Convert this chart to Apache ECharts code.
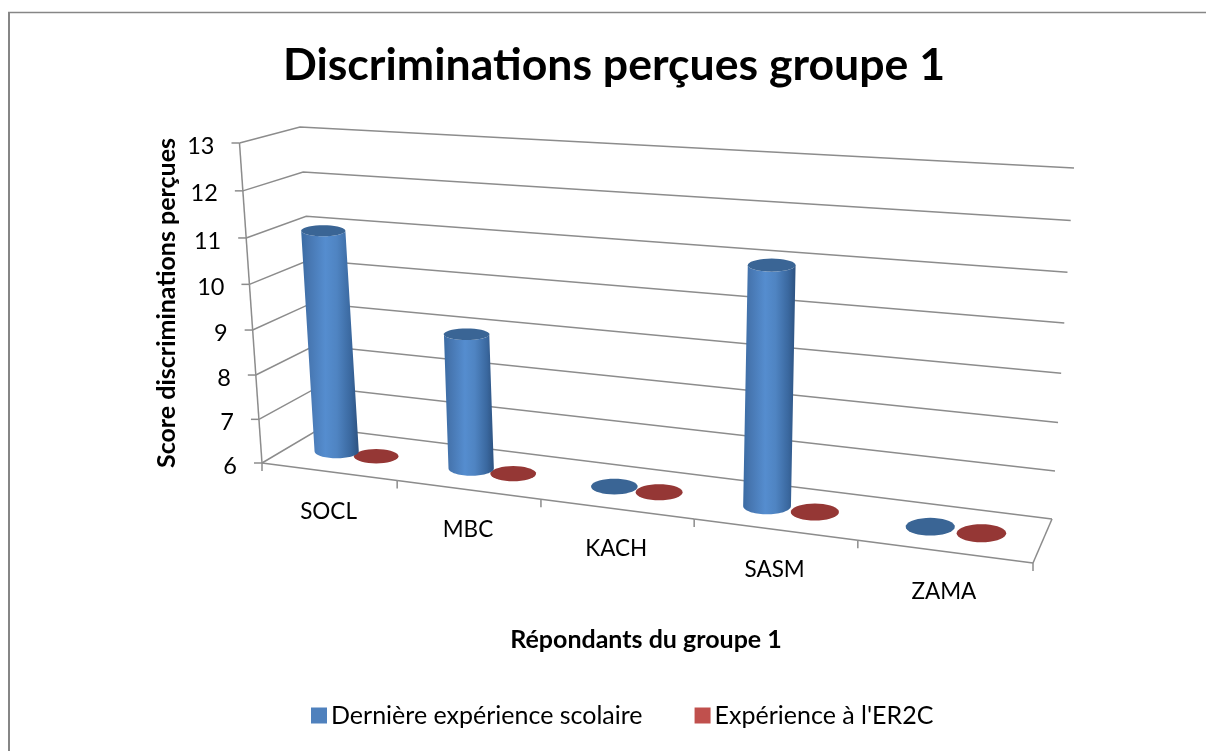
<!DOCTYPE html>
<html><head><meta charset="utf-8">
<script src="https://cdn.jsdelivr.net/npm/echarts@6/dist/echarts.min.js"></script>
<style>html,body{margin:0;padding:0;background:#fff}#c{width:1206px;height:751px}</style>
</head><body><div id="c"></div>
<script>
const categories = ['SOCL','MBC','KACH','SASM','ZAMA'];
const derniereExperience = [11, 9, 6, 11, 6];
const experienceER2C = [6, 6, 6, 6, 6];
const valueTicks = [6, 7, 8, 9, 10, 11, 12, 13];
const seriesNames = ['Dernière expérience scolaire', "Expérience à l'ER2C"];
const titleText = 'Discriminations perçues groupe 1';
const yName = 'Score discriminations perçues';
const xName = 'Répondants du groupe 1';

const FONT = 'Lato';
const GRID = {left: 262, top: 143, width: 771, height: 320};
// perspective frame of the 3D box
const FLOOR = {fl: [262,463], fr: [1033,563], bl: [321,428], br: [1052,519]};
const ROOF  = {fl: [239.5,143], fr: [1057,192], bl: [300,127], br: [1074,168]};
const lerp = (a,b,t) => [a[0]+(b[0]-a[0])*t, a[1]+(b[1]-a[1])*t];
const warpU = u => u/(u+1.176*(1-u));
const warpV = v => v/(v+1.055*(1-v));
function project(u,d,v){
  const f = warpU(u), w = warpV(v);
  const low = lerp(lerp(FLOOR.fl,FLOOR.fr,f), lerp(FLOOR.bl,FLOOR.br,f), d);
  const top = lerp(lerp(ROOF.fl,ROOF.fr,f), lerp(ROOF.bl,ROOF.br,f), d);
  return lerp(low,top,w);
}
const toUnit = p => [(p[0]-GRID.left)/GRID.width, (GRID.top+GRID.height-p[1])/GRID.height];
const LINE = '#8c8c8c';
const lineStyle = {stroke: LINE, lineWidth: 1.5, fill: null};

function valueFrame(params, api){
  const val = api.value(1);
  const v = toUnit(api.coord([0,val]))[1];
  const a = project(0,0,v), b = project(0,1,v), c = project(1,1,v);
  const kids = [
    {type:'polyline', shape:{points:[a,b,c]}, style:lineStyle},
    {type:'line', shape:{x1:a[0]-8,y1:a[1],x2:a[0],y2:a[1]}, style:lineStyle},
    {type:'text', style:{text:String(val), x:a[0]-25, y:a[1]+3, align:'right', verticalAlign:'middle',
      font:'23.5px '+FONT, fill:'#000'}}
  ];
  if (params.dataIndex < valueTicks.length-1){
    const nv = toUnit(api.coord([0,valueTicks[params.dataIndex+1]]))[1];
    const n = project(0,0,nv);
    kids.push({type:'line', shape:{x1:a[0],y1:a[1],x2:n[0],y2:n[1]}, style:lineStyle});
  }
  return {type:'group', children:kids};
}
function categoryFrame(params, api){
  const i = params.dataIndex;
  const cx = toUnit(api.coord([i,6]))[0];
  const half = api.size([1,0])[0]/GRID.width/2;
  const l = project(cx-half,0,0), r = project(cx+half,0,0), m = project(cx,0,0);
  const kids = [
    {type:'line', shape:{x1:l[0],y1:l[1],x2:r[0],y2:r[1]}, style:lineStyle},
    {type:'line', shape:{x1:r[0],y1:r[1],x2:r[0],y2:r[1]+8}, style:lineStyle},
    {type:'text', style:{text:categories[i], x:m[0], y:m[1]+40, align:'center', verticalAlign:'middle',
      font:'22.5px '+FONT, fill:'#000'}}
  ];
  if (i===0) kids.push({type:'line', shape:{x1:l[0],y1:l[1],x2:l[0],y2:l[1]+8}, style:lineStyle});
  if (i===categories.length-1){
    const b = project(1,1,0);
    kids.push({type:'line', shape:{x1:r[0],y1:r[1],x2:b[0],y2:b[1]}, style:lineStyle});
  }
  return {type:'group', children:kids};
}
function arc(c,rx,ry,from,to){
  const pts=[]; const n=36;
  for(let k=0;k<=n;k++){const t=from+(to-from)*k/n; pts.push([c[0]+rx*Math.cos(t), c[1]+ry*Math.sin(t)]);}
  return pts;
}
function cylinder(offset, pal){
  return function(params, api){
    const p = api.coord([api.value(0), api.value(1)]);
    const un = toUnit(p);
    const half = api.size([1,0])[0]/GRID.width;
    const u = un[0]+offset*half;
    const base = project(u,0.5,0), top = project(u,0.5,un[1]);
    const fx = (base[0]-262)/771;
    const rx = 21.8+3.2*fx, ry = 6.8+2.4*fx;
    const kids=[];
    if (un[1] > 0.001){
      const topRy = ry*0.78;
      const body = [[top[0]-rx,top[1]]].concat(arc(base,rx,ry,Math.PI,0)).concat([[top[0]+rx,top[1]]]).concat(arc(top,rx,topRy,0,Math.PI));
      kids.push({type:'polygon', shape:{points:body}, style:{fill:{type:'linear',x:0,y:0,x2:1,y2:0,colorStops:pal.body}, stroke:null}});
      kids.push({type:'polygon', shape:{points:arc(top,rx,topRy,0,Math.PI*2)}, style:{fill:pal.cap, stroke:null}});
    } else {
      kids.push({type:'polygon', shape:{points:arc(top,rx,ry,0,Math.PI*2)}, style:{fill:pal.cap, stroke:null}});
    }
    return {type:'group', children:kids};
  };
}
const bluePal = {cap:'#3a6595', body:[
  {offset:0,color:'#3a6ba3'},{offset:.12,color:'#4675af'},{offset:.42,color:'#558dcf'},
  {offset:.62,color:'#4f84c2'},{offset:.86,color:'#3a689f'},{offset:1,color:'#2d5280'}]};
const redPal = {cap:'#953735', body:[
  {offset:0,color:'#8f3330'},{offset:.4,color:'#c0504d'},{offset:1,color:'#7f2c2a'}]};

const chart = echarts.init(document.getElementById('c'), null, {renderer:'canvas'});
chart.setOption({
  animation:false,
  backgroundColor:'#fff',
  textStyle:{fontFamily:FONT},
  title:{text:titleText, left:609, textAlign:'center', top:38,
    textStyle:{fontFamily:FONT,fontWeight:'bold',fontSize:44.6,color:'#000'}},
  legend:{left:306, top:698, icon:'rect', itemWidth:16, itemHeight:16, itemGap:52,
    textStyle:{fontFamily:FONT,fontSize:25,color:'#000',padding:[0,0,0,-1]},
    data:seriesNames},
  grid:Object.assign({}, GRID),
  xAxis:{type:'category', data:categories, show:false},
  yAxis:{type:'value', min:6, max:13, interval:1, show:false},
  graphic:[
    {type:'line', shape:{x1:9,y1:12.5,x2:9,y2:751}, style:{stroke:'#868686',lineWidth:2}},
    {type:'line', shape:{x1:8,y1:12.5,x2:1206,y2:12.5}, style:{stroke:'#868686',lineWidth:1.5}},
    {type:'text', x:167, y:303, rotation:Math.PI/2, originX:0, originY:0,
      style:{text:yName, align:'center', verticalAlign:'middle', font:'bold 25px '+FONT, fill:'#000'}},
    {type:'text', x:646, y:640,
      style:{text:xName, align:'center', verticalAlign:'middle', font:'bold 25px '+FONT, fill:'#000'}}
  ],
  series:[
    {type:'custom', name:'axes-values', silent:true, z:1, clip:false, renderItem:valueFrame,
      data:valueTicks.map(v=>[0,v]), encode:{x:0,y:1}},
    {type:'custom', name:'axes-categories', silent:true, z:1, clip:false, renderItem:categoryFrame,
      data:categories.map((c,i)=>[i,6]), encode:{x:0,y:1}},
    {type:'custom', name:seriesNames[0], z:3, clip:false, itemStyle:{color:'#4f81bd'},
      renderItem:cylinder(-0.15,bluePal),
      data:derniereExperience.map((v,i)=>[i,v]), encode:{x:0,y:1}},
    {type:'custom', name:seriesNames[1], z:2, clip:false, itemStyle:{color:'#c0504d'},
      renderItem:cylinder(0.15,redPal),
      data:experienceER2C.map((v,i)=>[i,v]), encode:{x:0,y:1}}
  ]
});
</script></body></html>
